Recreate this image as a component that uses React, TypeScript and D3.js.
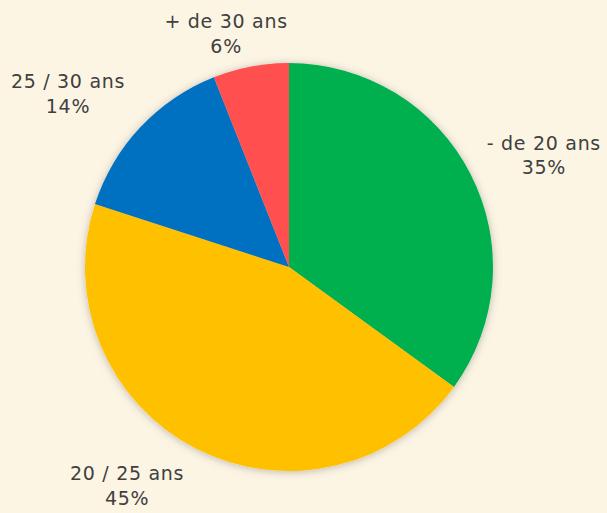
import React from "react";
import * as d3 from "d3";

const categories = ["- de 20 ans", "20 / 25 ans", "25 / 30 ans", "+ de 30 ans"];
const values = [35, 45, 14, 6];
const colors = ["#00B050", "#FFC000", "#0070C0", "#FF5050"];

// label placement (angle offset in degrees, radius) for Excel "best fit" look
const labelLayout = [
  { da: 3, r: 279 },
  { da: 9.7, r: 271 },
  { da: -4.8, r: 282 },
  { da: -4.2, r: 243 },
];

const W = 607;
const H = 513;
const cx = 289;
const cy = 267;
const R = 204;

export default function App() {
  const pie = d3.pie<number>().sort(null).value((d) => d);
  const arcs = pie(values);
  const arc = d3.arc<d3.PieArcDatum<number>>().innerRadius(0).outerRadius(R);
  const total = d3.sum(values);
  return (
    <svg
      width={W}
      height={H}
      style={{ position: "absolute", left: 0, top: 0, background: "#FDF5E4" }}
    >
      <defs>
        <filter id="sh" x="-20%" y="-20%" width="140%" height="140%">
          <feDropShadow dx="0" dy="1" stdDeviation="4" floodColor="#000" floodOpacity="0.25" />
        </filter>
      </defs>
      <rect width={W} height={H} fill="#FDF5E4" />
      <g transform={`translate(${cx},${cy})`}>
        <g filter="url(#sh)">
          {arcs.map((a, i) => (
            <path key={i} d={arc(a) || ""} fill={colors[i]} />
          ))}
        </g>
        {arcs.map((a, i) => {
          const mid = (a.startAngle + a.endAngle) / 2 + (labelLayout[i].da * Math.PI) / 180;
          const x = Math.sin(mid) * labelLayout[i].r;
          const y = -Math.cos(mid) * labelLayout[i].r;
          const pct = Math.round((values[i] / total) * 100) + "%";
          return (
            <text
              key={i}
              x={x}
              y={y}
              textAnchor="middle"
              fill="#404040"
              fontSize={19}
              letterSpacing={0.7}
              fontFamily="'DejaVu Sans', sans-serif"
            >
              <tspan x={x} dy="-0.2em">{categories[i]}</tspan>
              <tspan x={x} dy="1.3em">{pct}</tspan>
            </text>
          );
        })}
      </g>
    </svg>
  );
}
